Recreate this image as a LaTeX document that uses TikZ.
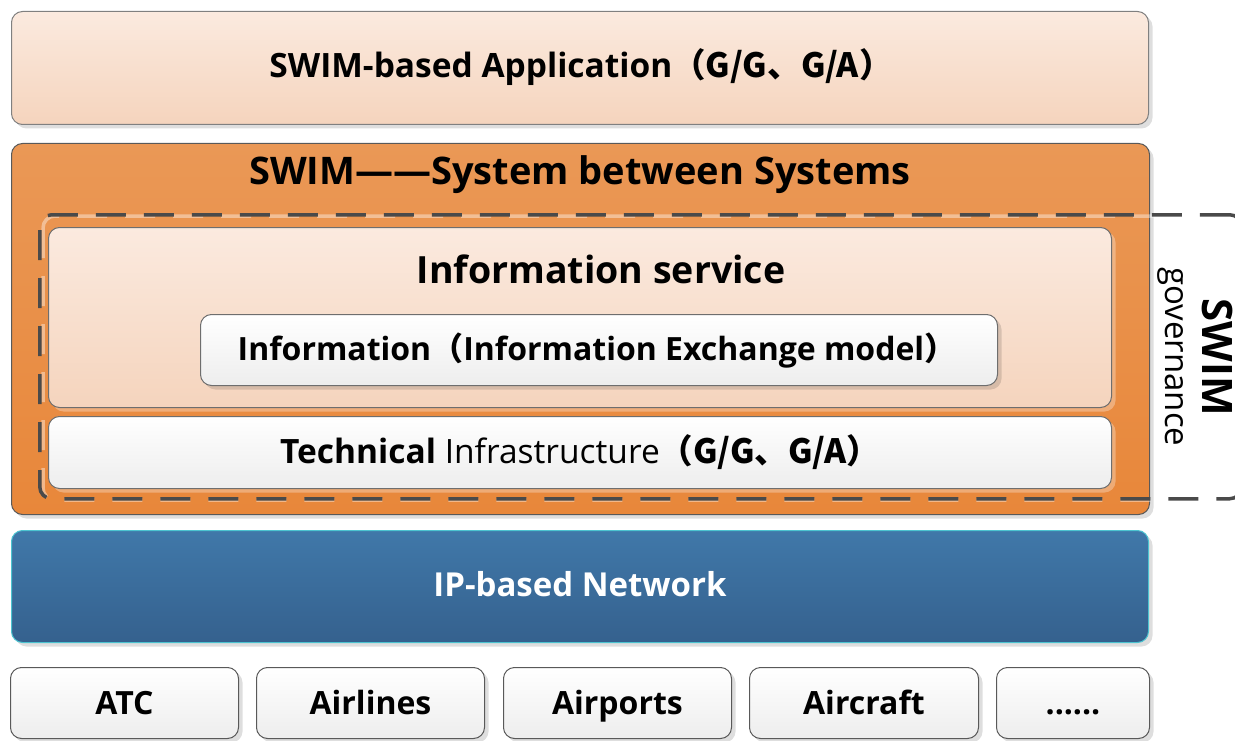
\documentclass[tikz,border=0pt]{standalone}
\usepackage{fontspec}
\setmainfont{Open Sans}
\newfontfamily\cjk{Noto Sans CJK SC}
\usetikzlibrary{shadows}
\definecolor{peachT}{HTML}{FBEADF}
\definecolor{peachB}{HTML}{F5D4BD}
\definecolor{orangeT}{HTML}{EA9856}
\definecolor{orangeB}{HTML}{E8873A}
\definecolor{blueT}{HTML}{4078A9}
\definecolor{blueB}{HTML}{35618E}
\definecolor{tealB}{HTML}{4CC3D0}
\definecolor{greyB}{HTML}{6E6E6E}
\definecolor{dashC}{HTML}{4A4A4A}
\newcommand{\fp}[1]{{\cjk\bfseries #1}}
\begin{document}
\begin{tikzpicture}[x=1pt,y=-1pt,
  layer/.style={draw=greyB, line width=1pt, rounded corners=11pt, inner sep=0pt,
    anchor=north west, align=center},
  gshadow/.style={drop shadow={shadow xshift=4pt, shadow yshift=-4pt, fill=black, opacity=0.13}},
  lshadow/.style={drop shadow={shadow xshift=4pt, shadow yshift=-4pt, fill=white, opacity=0.3}},
  peach/.style={layer, top color=peachT, bottom color=peachB},
  whitebox/.style={layer, top color=white, bottom color=black!7},
  lbl/.style={inner sep=0pt, text depth=0pt, text height=23pt, font=\fontsize{32}{36}\selectfont\bfseries},
  lblL/.style={lbl, text height=24pt, font=\fontsize{33.5}{38}\selectfont\bfseries}
]
\useasboundingbox (0,0) rectangle (1235,741);

% top application layer
\node[peach, gshadow, draw=black!50, minimum width=1137pt, minimum height=113pt] (app) at (11,11) {};
\node[lblL] (apptxt) at (581,66) {SWIM-based Application\fp{（G/G、G/A）}};

% SWIM system between systems
\node[layer, gshadow, draw=black!65, top color=orangeT, bottom color=orangeB,
      minimum width=1138pt, minimum height=371pt] (sys) at (11,143) {};
\node[lbl, text height=27pt, font=\fontsize{38}{42}\selectfont\bfseries] (systxt) at (580,171) {SWIM——System between Systems};

% governance dashed frame (its right side lies just beyond the picture edge)
\begin{scope}
\clip (0,0) rectangle (1235,741);
\draw[white, opacity=0.4, line width=3.5pt, dash pattern=on 30pt off 18pt, rounded corners=12pt]
  (43,216) rectangle (1245,500);
\node[draw=dashC, line width=3.5pt, dash pattern=on 30pt off 18pt, rounded corners=12pt,
      anchor=north west, inner sep=0pt, minimum width=1202pt, minimum height=284pt] (gov) at (38,213) {};
\end{scope}
\node[inner sep=0pt, rotate=-90, text height=30pt, text depth=0pt, font=\fontsize{42}{46}\selectfont\bfseries] (govswim) at (1217.5,357) {SWIM};
\node[inner sep=0pt, rotate=-90, text height=17.7pt, text depth=0pt, font=\fontsize{33}{36}\selectfont] (govtxt) at (1174,357) {governance};

% information service
\node[peach, lshadow, minimum width=1063pt, minimum height=180pt] (isvc) at (48,227) {};
\node[lbl, text height=26.8pt, font=\fontsize{37.5}{42}\selectfont\bfseries] (isvctxt) at (601,270) {Information service};
\node[whitebox, gshadow, minimum width=797pt, minimum height=71pt] (info) at (200,314) {};
\node[lbl] (infotxt) at (597,349) {Information\fp{（}Information Exchange model\fp{）}};

% technical infrastructure
\node[whitebox, lshadow, minimum width=1063pt, minimum height=72pt] (tech) at (48,416) {};
\node[lblL] (techtxt) at (580,451) {Technical {\mdseries Infrastructure}\fp{（G/G、G/A）}};

% IP network
\node[layer, gshadow, draw=tealB, top color=blueT, bottom color=blueB,
      minimum width=1137pt, minimum height=112pt] (ip) at (11,530) {};
\node[lbl, text height=23.6pt, font=\fontsize{33}{38}\selectfont\bfseries, text=white] (iptxt) at (580,585) {IP-based Network};

% stakeholders
\node[whitebox, gshadow, draw=black!65, minimum width=228pt, minimum height=71pt] (atc) at (10,667) {};
\node[lbl] at (atc.center) {ATC};
\node[whitebox, gshadow, draw=black!65, minimum width=228pt, minimum height=71pt] (airl) at (256,667) {};
\node[lbl] at (airl.center) {Airlines};
\node[whitebox, gshadow, draw=black!65, minimum width=228pt, minimum height=71pt] (airp) at (503,667) {};
\node[lbl] at (airp.center) {Airports};
\node[whitebox, gshadow, draw=black!65, minimum width=229pt, minimum height=71pt] (acft) at (749,667) {};
\node[lbl] at (acft.center) {Aircraft};
\node[whitebox, gshadow, draw=black!65, minimum width=153pt, minimum height=71pt] (more) at (996,667) {};
\node[lbl] at (more.center) {......};
\end{tikzpicture}
\end{document}
